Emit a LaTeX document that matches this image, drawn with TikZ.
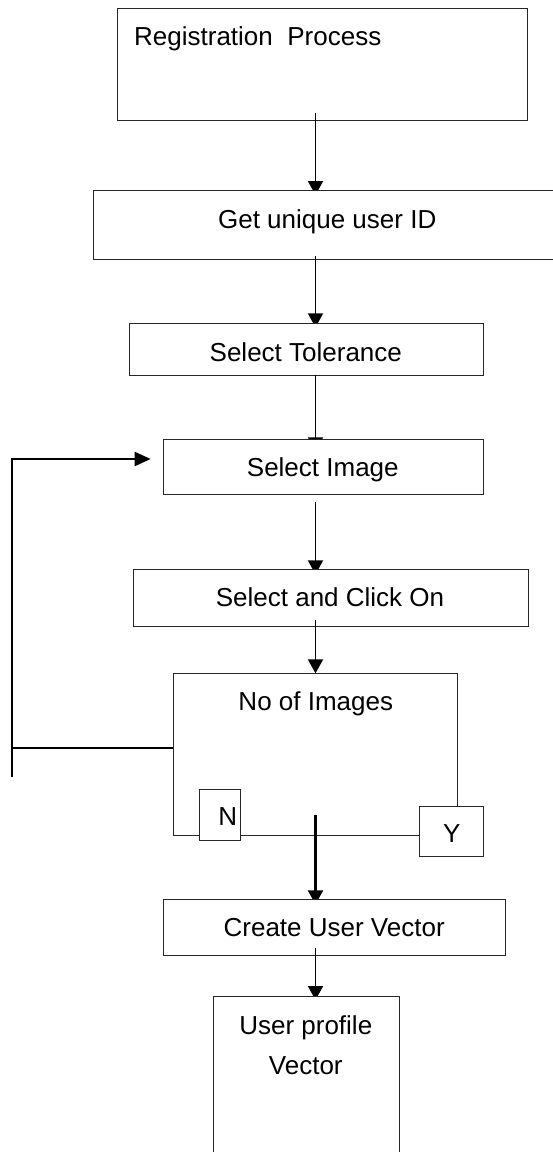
\documentclass[tikz,border=0pt]{standalone}
\usepackage{fontspec}
\setmainfont{Liberation Sans}
\usetikzlibrary{arrows.meta,calc}
\pgfdeclarelayer{lA}\pgfdeclarelayer{laA}
\pgfdeclarelayer{lB}\pgfdeclarelayer{laB}
\pgfdeclarelayer{lC}\pgfdeclarelayer{laC}
\pgfdeclarelayer{lD}\pgfdeclarelayer{laD}
\pgfdeclarelayer{lE}\pgfdeclarelayer{laE}
\pgfdeclarelayer{lF}\pgfdeclarelayer{laF}
\pgfdeclarelayer{lG}\pgfdeclarelayer{laG}
\pgfdeclarelayer{lH}
\pgfsetlayers{lA,laA,lB,laB,lC,laC,lD,laD,lE,laE,lF,laF,lG,laG,lH,main}
\begin{document}
\begin{tikzpicture}[x=1pt,y=-1pt,
  box/.style={draw=black!85, line width=1pt, fill=white, rectangle, inner sep=0pt, outer sep=0pt},
  lbl/.style={font=\fontsize{26}{30}\selectfont, inner sep=0pt, anchor=base},
  arr/.style={line width=1.9pt, -{Triangle[length=14pt,width=15pt]}},
  fb/.style={line width=2.2pt}]
\useasboundingbox (0,0) rectangle (553,1152);
\coordinate (spine) at (315.5,0);

% ---------- boxes ----------
\begin{pgfonlayer}{lA}
\node[box, minimum width=410pt, minimum height=112.2pt] (b1) at (322.3,64.4) {};
\end{pgfonlayer}
\begin{pgfonlayer}{lB}
\node[box, minimum width=470pt, minimum height=69.5pt] (b2) at (328.9,224.75) {};
\end{pgfonlayer}
\begin{pgfonlayer}{lC}
\node[box, minimum width=354pt, minimum height=51.7pt] (b3) at (306.3,349.15) {};
\end{pgfonlayer}
\begin{pgfonlayer}{lD}
\node[box, minimum width=320pt, minimum height=55pt] (b4) at (323.3,466.8) {};
\end{pgfonlayer}
\begin{pgfonlayer}{lE}
\node[box, minimum width=394.7pt, minimum height=57.4pt] (b5) at (330.65,598) {};
\end{pgfonlayer}
\begin{pgfonlayer}{lF}
\node[box, minimum width=284pt, minimum height=162.4pt] (b6) at (315.3,754.5) {};
\node[box, minimum width=41.4pt, minimum height=51pt] (bN) at (220,814.5) {};
\node[box, minimum width=64pt, minimum height=50pt] (bY) at (451.3,831.7) {};
\end{pgfonlayer}
\begin{pgfonlayer}{lG}
\node[box, minimum width=342.4pt, minimum height=55.7pt] (b7) at (334.5,927.15) {};
\end{pgfonlayer}
\begin{pgfonlayer}{lH}
\node[box, minimum width=186pt, minimum height=175pt] (b8) at (306.3,1083.5) {};
\end{pgfonlayer}

% ---------- texts ----------
\node[lbl, anchor=base west] (t1) at (134,45) {Registration\ \ Process};
\node[lbl] (t2) at (327.2,228.3) {Get unique user ID};
\node[lbl] (t3) at (305.8,361) {Select Tolerance};
\node[lbl] (t4) at (322.8,476.7) {Select Image};
\node[lbl] (t5) at (330,606.7) {Select and Click On};
\node[lbl] (t6) at (315.8,710.7) {No of Images};
\node[lbl] (tN) at (227.7,825) {N};
\node[lbl] (tY) at (451.7,842.3) {Y};
\node[lbl] (t7) at (334.2,936) {Create User Vector};
\node[lbl] (t8a) at (305.8,1034.3) {User profile};
\node[lbl] (t8b) at (305.8,1074) {Vector};

% ---------- connectors ----------
\begin{pgfonlayer}{laA}
\draw[arr] ($(b1.south -| spine)+(0,-8)$) -- ($(b2.north -| spine)+(0,5)$);
\end{pgfonlayer}
\begin{pgfonlayer}{laB}
\draw[arr] ($(b2.south -| spine)+(0,-3.5)$) -- ($(b3.north -| spine)+(0,4)$);
\end{pgfonlayer}
\begin{pgfonlayer}{laC}
\draw[arr] (b3.south -| spine) -- ($(b4.north -| spine)+(0,12)$);
\end{pgfonlayer}
\begin{pgfonlayer}{laD}
\draw[arr] ($(b4.south -| spine)+(0,7.4)$) -- ($(b5.north -| spine)+(0,5)$);
\end{pgfonlayer}
\begin{pgfonlayer}{laE}
\draw[arr] ($(b5.south -| spine)+(0,-6.7)$) -- (b6.north -| spine);
\end{pgfonlayer}
\begin{pgfonlayer}{laF}
\coordinate (fbJ) at (11.7,748.3);
\coordinate (fbBot) at (11.7,776.7);
\coordinate (fbTop) at (11.7,459);
\coordinate (fbTip) at (150.7,459);
\draw[fb] (fbJ -| b6.west) -- (fbJ);
\draw[fb, -{Triangle[length=16pt,width=14pt]}] (fbBot) -- (fbTop) -- (fbTip);
\draw[arr, line width=2.3pt] ($(b6.south -| spine)+(0,-20.7)$) -- ($(b7.north -| spine)+(0,5)$);
\end{pgfonlayer}
\begin{pgfonlayer}{laG}
\draw[arr] ($(b7.south -| spine)+(0,-7)$) -- ($(b8.north -| spine)+(0,4)$);
\end{pgfonlayer}
\end{tikzpicture}
\end{document}
